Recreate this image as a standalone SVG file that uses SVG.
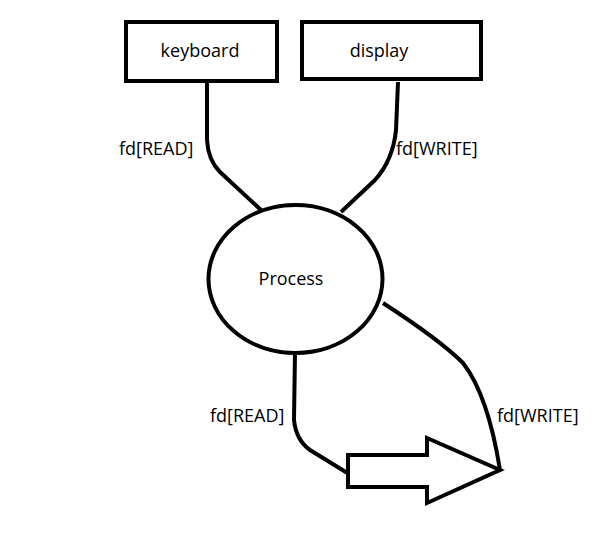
<svg xmlns="http://www.w3.org/2000/svg" width="600" height="555" viewBox="0 0 600 555">
<style>
.s{fill:none;stroke:#000;stroke-width:4;stroke-linejoin:miter}
.n{fill:#fff;stroke:#000;stroke-width:4}
text{font-family:"Open Sans","Liberation Sans",sans-serif;font-size:18px;fill:#000}
</style>
<rect width="600" height="555" fill="#fff"/>
<g id="connectors">
<path class="s" d="M207,83 L207,140 Q208,160 220,172 L261,210"/>
<path class="s" d="M398,82 L396,130 Q393,160 375,180 L341,212"/>
<path class="s" d="M295,352 L294,420 Q296,440 310,450 L349,474"/>
<path class="s" d="M383,303 Q440,340 463,363 Q488,395 500,470"/>
<text x="119" y="155">fd[READ]</text>
<text x="396" y="155">fd[WRITE]</text>
<text x="210" y="422">fd[READ]</text>
<text x="497" y="422">fd[WRITE]</text>
</g>
<g id="keyboard">
<rect class="n" x="126" y="22" width="151" height="59"/>
<text x="200" y="57" text-anchor="middle">keyboard</text>
</g>
<g id="display">
<rect class="n" x="302" y="22" width="179" height="57"/>
<text x="379" y="57" text-anchor="middle">display</text>
</g>
<g id="process">
<ellipse class="n" cx="295.5" cy="279" rx="87" ry="74"/>
<text x="291" y="285" text-anchor="middle" font-size="17">Process</text>
</g>
<g id="arrow">
<polygon class="n" points="348,455 427,455 427,438 500,470 427,503 427,487 348,487"/>
</g>
</svg>
